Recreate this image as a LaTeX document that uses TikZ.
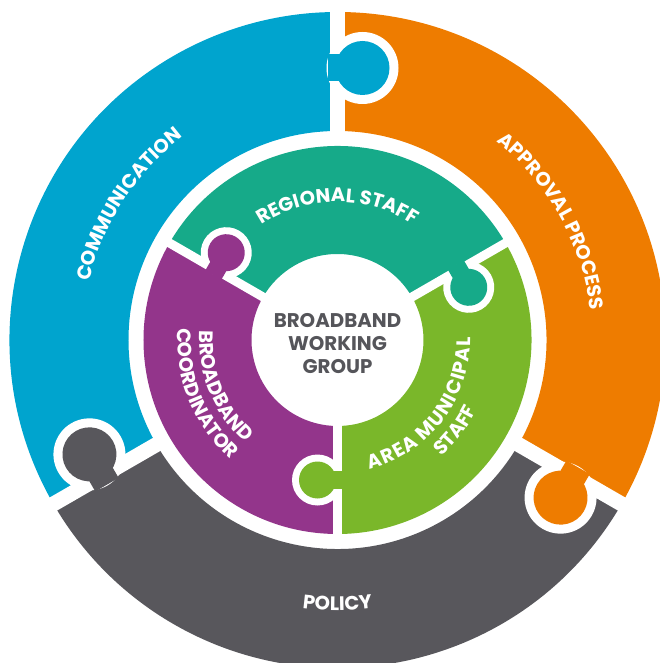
\documentclass[tikz,border=0pt]{standalone}
\usepackage{fontspec}
\setmainfont{Poppins}
\usetikzlibrary{decorations.text}
\definecolor{commblue}{RGB}{0,164,206}
\definecolor{approvalorange}{RGB}{238,124,0}
\definecolor{policygray}{RGB}{88,87,92}
\definecolor{regionalteal}{RGB}{22,170,137}
\definecolor{coordpurple}{RGB}{147,53,139}
\definecolor{municipalgreen}{RGB}{122,183,42}
\definecolor{wgtext}{RGB}{85,85,90}
\newcommand{\ringfont}{\bfseries\fontsize{19.5}{22}\selectfont}
\newcommand{\centerfont}{\bfseries\fontsize{19.8}{23}\selectfont}
\def\ringsector[#1](#2:#3:#4:#5){\fill[#1] (#2:#4) arc (#2:#3:#4) -- (#3:#5) arc (#3:#2:#5) -- cycle;}
\def\puzzletab[#1](#2:#3:#4:#5:#6:#7){%
	\begin{scope}[rotate=#2-90]
		\fill[white] (#3,#4) circle (#6);
		\fill[#1] (#3,#4) circle (#5);
		\fill[#1] (#7,{#4-0.5*#5}) rectangle (#3,{#4+0.5*#5});
	\end{scope}}
\tikzset{
	outergap/.style={white, line width=15},
	innergap/.style={white, line width=9},
	ringlabel/.style={decorate, decoration={text along path, text align=center, text color=white, text={|\ringfont|#1}}}
}

\begin{document}
\begin{tikzpicture}[x=1pt,y=1pt]
	%%%%% START %%%%%
	\useasboundingbox (-337.5,-323) rectangle (322.5,340);
	\clip (-337.5,-323) rectangle (322.5,340);
	
	% outer ring
	\ringsector[commblue](90:210:209:328)
	\ringsector[policygray](210:330:209:328)
	\ringsector[approvalorange](330:450:209:328)
	
	% middle ring
	\ringsector[regionalteal](30:150:86:194)
	\ringsector[coordpurple](150:270:86:194)
	\ringsector[municipalgreen](270:390:86:194)
	
	% gaps between pieces
	\foreach \a in {90,210,330} \draw[outergap] (\a:200) -- (\a:340);
	\foreach \a in {30,150,270} \draw[innergap] (\a:80) -- (\a:200);
	
	% puzzle tabs
	\puzzletab[commblue](90:25:272:27:36:-10)
	\puzzletab[policygray](210:25:272:27:36:-10)
	\puzzletab[approvalorange](330:25:272:27:36:-10)
	\puzzletab[regionalteal](30:20:140:18.5:25.5:-6)
	\puzzletab[coordpurple](150:20:140:18.5:25.5:-6)
	\puzzletab[municipalgreen](270:20:140:18.5:25.5:-6)
	
	% labels
	\path[ringlabel={COMMUNICATION}] (207:255) arc (207:87:255);
	\path[ringlabel={APPROVAL PROCESS}] (89:254.5) arc (89:-31:254.5);
	\path[ringlabel={POLICY}] (210:270.5) arc (210:330:270.5);
	\path[ringlabel={REGIONAL STAFF}] (150:138) arc (150:30:138);
	\path[ringlabel={A{\kern1.2pt}R{\kern1.2pt}E{\kern1.2pt}A{\kern1.2pt} M{\kern1.2pt}U{\kern1.2pt}N{\kern1.2pt}I{\kern1.2pt}C{\kern1.2pt}I{\kern1.2pt}P{\kern1.2pt}A{\kern1.2pt}L}] (262.5:133) arc (262.5:382.5:133);
	\path[ringlabel={STAFF}] (262.5:156) arc (262.5:382.5:156);
	\path[ringlabel={BROADBAND}] (142:138) arc (142:262:138);
	\path[ringlabel={COORDINATOR}] (142:160) arc (142:262:160);
	
	\node[align=center, text=wgtext, font=\centerfont] (wg) at (0,-3.5) {BROADBAND\\WORKING\\GROUP};
	%%%%% END %%%%%
\end{tikzpicture}
\end{document}
